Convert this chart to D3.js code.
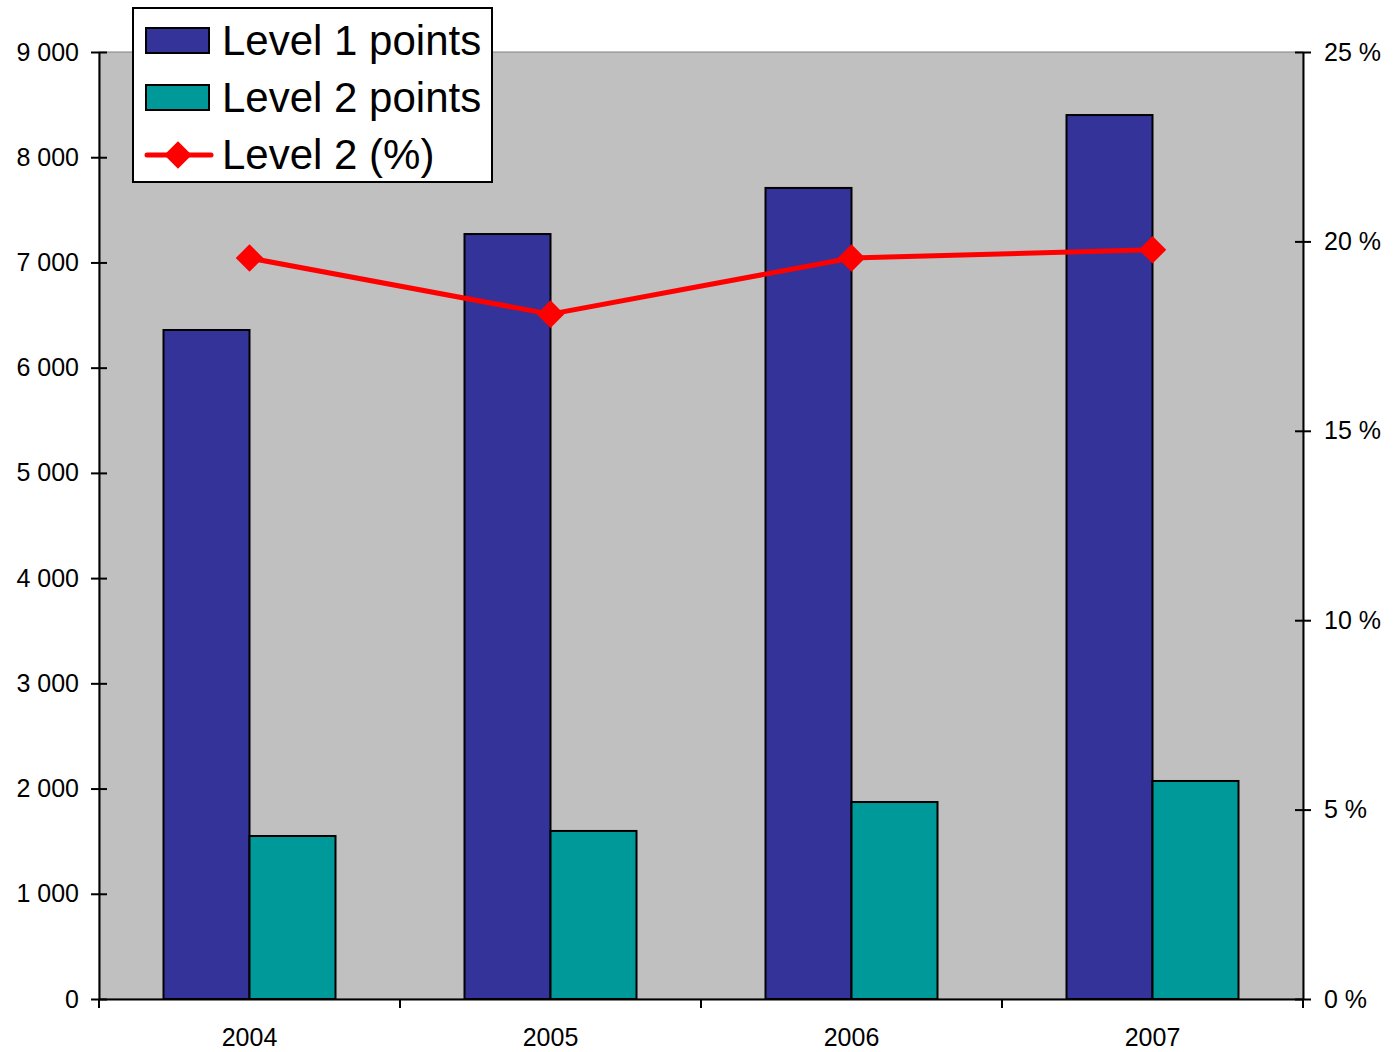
<!DOCTYPE html>
<html>
<head>
<meta charset="utf-8">
<script src="https://cdn.jsdelivr.net/npm/d3@7"></script>
<style>
  body { margin: 0; background: #fff; }
  svg text { font-family: "Liberation Sans", Arial, sans-serif; fill: #000; }
</style>
</head>
<body>
<div id="chart"></div>
<script>
// data
const years = ["2004", "2005", "2006", "2007"];
const level1 = [6358, 7270, 7708, 8401];
const level2 = [1549, 1597, 1872, 2072];
const level2Pct = [19.56, 18.08, 19.56, 19.78];
const leftTicks = [0, 1000, 2000, 3000, 4000, 5000, 6000, 7000, 8000, 9000];
const rightTicks = [0, 5, 10, 15, 20, 25];
const seriesNames = ["Level 1 points", "Level 2 points", "Level 2 (%)"];

const W = 1393, H = 1052;
const margin = { top: 52, right: 90, bottom: 53, left: 99 };
const width = W - margin.left - margin.right,
  height = H - margin.top - margin.bottom;

const svg = d3.select("#chart").append("svg")
  .attr("width", W).attr("height", H);

const g = svg.append("g")
  .attr("transform", `translate(${margin.left},${margin.top})`);

// plot background
g.append("rect")
  .attr("width", width).attr("height", height)
  .attr("fill", "#c0c0c0")
  .attr("stroke", "#808080").attr("stroke-width", 1);

// scales
const x0 = d3.scaleBand().domain(years).range([0, width]).padding(0);
const bw = x0.bandwidth() / 3.5; // gap width 150%
const x1 = d3.scaleBand().domain([0, 1]).range([0.75 * bw, 2.75 * bw]);
const y = d3.scaleLinear().domain([0, 9000]).range([height, 0]);
const yR = d3.scaleLinear().domain([0, 25]).range([height, 0]);

const fmt = d => d3.format(",")(d).replace(/,/g, " ");

// bars
const series = [
  { values: level1, color: "#333399" },
  { values: level2, color: "#009999" }
];
series.forEach((s, i) => {
  g.append("g").selectAll("rect")
    .data(years.map((yr, j) => ({ yr, v: s.values[j] })))
    .join("rect")
    .attr("x", d => x0(d.yr) + x1(i))
    .attr("y", d => y(d.v))
    .attr("width", x1.bandwidth())
    .attr("height", d => height - y(d.v))
    .attr("fill", s.color)
    .attr("stroke", "#000").attr("stroke-width", 2);
});

// axes
const yAxis = g.append("g")
  .call(d3.axisLeft(y).tickValues(leftTicks).tickFormat(fmt).tickSizeInner(8).tickSizeOuter(0).tickPadding(12));
yAxis.selectAll(".tick line").attr("x2", 8).attr("x1", -8);
const yAxisR = g.append("g").attr("transform", `translate(${width},0)`)
  .call(d3.axisRight(yR).tickValues(rightTicks).tickFormat(d => d + " %").tickSizeInner(8).tickSizeOuter(0).tickPadding(13));
yAxisR.selectAll(".tick line").attr("x1", -8).attr("x2", 8);
const xAxis = g.append("g").attr("transform", `translate(0,${height})`)
  .call(d3.axisBottom(x0).tickSize(0).tickPadding(29));

// category separators on the x axis
g.append("g").selectAll("line")
  .data(years.concat(["end"]))
  .join("line")
  .attr("x1", (d, i) => i * x0.bandwidth())
  .attr("x2", (d, i) => i * x0.bandwidth())
  .attr("y1", height).attr("y2", height + 9)
  .attr("stroke", "#000").attr("stroke-width", 2);

[yAxis, yAxisR, xAxis].forEach(a => {
  a.selectAll("path.domain").attr("stroke", "#000").attr("stroke-width", 2);
  a.selectAll(".tick line").attr("stroke", "#000").attr("stroke-width", 2);
  a.selectAll("text").attr("font-size", 25).attr("font-family", "Liberation Sans, Arial, sans-serif");
});

// line
const pts = years.map((yr, j) => [x0(yr) + x0.bandwidth() / 2, yR(level2Pct[j])]);
g.append("path")
  .attr("d", d3.line()(pts))
  .attr("fill", "none").attr("stroke", "#ff0000").attr("stroke-width", 5)
  .attr("stroke-linejoin", "round");
const diamond = d3.symbol().type(d3.symbolSquare).size(380);
g.append("g").selectAll("path")
  .data(pts)
  .join("path")
  .attr("d", diamond)
  .attr("transform", d => `translate(${d[0]},${d[1]}) rotate(45)`)
  .attr("fill", "#ff0000");

// legend
const lg = svg.append("g").attr("transform", "translate(133,8)");
lg.append("rect").attr("width", 359).attr("height", 174)
  .attr("fill", "#fff").attr("stroke", "#000").attr("stroke-width", 2);
const rowY = [33, 90, 147];
[0, 1].forEach(i => {
  lg.append("rect").attr("x", 13).attr("y", rowY[i] - 13)
    .attr("width", 63).attr("height", 25)
    .attr("fill", series[i].color).attr("stroke", "#000").attr("stroke-width", 2);
});
lg.append("line").attr("x1", 14).attr("x2", 78).attr("y1", rowY[2]).attr("y2", rowY[2])
  .attr("stroke", "#ff0000").attr("stroke-width", 5).attr("stroke-linecap", "round");
lg.append("path").attr("d", diamond)
  .attr("transform", `translate(45,${rowY[2]}) rotate(45)`).attr("fill", "#ff0000");
lg.selectAll("text.leg")
  .data(seriesNames)
  .join("text").attr("class", "leg")
  .attr("x", 89).attr("y", (d, i) => rowY[i] + 14)
  .attr("font-size", 42)
  .text(d => d);
</script>
</body>
</html>
